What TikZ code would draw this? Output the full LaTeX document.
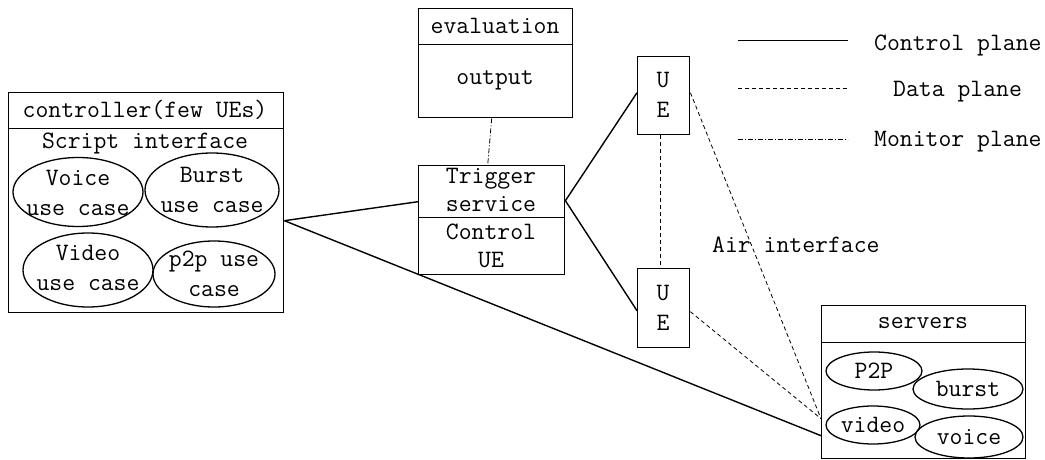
\documentclass[tikz,border=0pt]{standalone}
\usepackage{fontspec}
\usetikzlibrary{shapes.geometric}
\tikzset{
  box/.style={draw, line width=1.4pt, inner sep=0pt, anchor=north west},
  uc/.style={draw, ellipse, line width=1.3pt, inner sep=0pt},
  txt/.style={font=\fontsize{25}{30}\selectfont\ttfamily, inner sep=0pt, align=center},
  tight/.style={font=\fontsize{25}{28}\selectfont\ttfamily},
  ctl/.style={line width=1.4pt},
  dat/.style={line width=0.8pt, dash pattern=on 4pt off 3pt},
  mon/.style={line width=0.8pt, dash pattern=on 5pt off 2pt on 1pt off 2pt},
}
\begin{document}
\begin{tikzpicture}[x=1pt,y=-1pt]
\useasboundingbox (0,0) rectangle (1045,460);
% controller
\node[box, minimum width=275pt, minimum height=36pt] (ctrlh) at (8,92) {};
\node[box, minimum width=275pt, minimum height=184pt] (ctrlb) at (8,128) {};
\node[txt] (ctrlt) at (145,110) {controller(few UEs)};
\node[txt] (script) at (145,143) {Script interface};
\node[uc, minimum width=130pt, minimum height=69pt] (voice) at (78,192) {};
\node[txt] (voicet) at (78,193) {Voice\\use case};
\node[uc, minimum width=134pt, minimum height=74pt] (burst) at (212,190) {};
\node[txt] (burstt) at (212,190) {Burst\\use case};
\node[uc, minimum width=130pt, minimum height=74pt] (video) at (88,270) {};
\node[txt] (videot) at (88,268) {Video\\use case};
\node[uc, minimum width=122pt, minimum height=66pt] (p2p) at (214,274) {};
\node[txt] (p2pt) at (214,274) {p2p use\\case};
% evaluation
\node[box, minimum width=154pt, minimum height=36pt] (evalh) at (418,8) {};
\node[box, minimum width=154pt, minimum height=73pt] (evalb) at (418,44) {};
\node[txt] (evalt) at (495,26) {evaluation};
\node[txt] (outt) at (495,80) {output};
% trigger
\node[box, minimum width=146pt, minimum height=52pt] (trigh) at (418,165) {};
\node[box, minimum width=146pt, minimum height=57pt] (trigb) at (418,217) {};
\node[txt, tight] (trigt) at (491,190) {Trigger\\service};
\node[txt, tight] (cuet) at (491,246) {Control\\UE};
% UEs
\node[box, minimum width=52pt, minimum height=78pt] (ue1) at (637,56) {};
\node[txt] (ue1t) at (663,95) {U\\E};
\node[box, minimum width=52pt, minimum height=79pt] (ue2) at (637,268) {};
\node[txt] (ue2t) at (663,308) {U\\E};
% servers
\node[box, minimum width=204pt, minimum height=37pt] (srvh) at (821,305) {};
\node[box, minimum width=204pt, minimum height=116pt] (srvb) at (821,342) {};
\node[txt] (srvt) at (923,323) {servers};
\node[uc, minimum width=96pt, minimum height=38pt] (sp2p) at (874,371) {};
\node[txt] at (sp2p) {P2P};
\node[uc, minimum width=110pt, minimum height=40pt] (sburst) at (968,389) {};
\node[txt] at (sburst) {burst};
\node[uc, minimum width=94pt, minimum height=38pt] (svideo) at (873,425) {};
\node[txt] at (svideo) {video};
\node[uc, minimum width=108pt, minimum height=42pt] (svoice) at (969,437) {};
\node[txt] at (svoice) {voice};
% air interface
\node[txt, anchor=west] (air) at (712,245) {Air interface};
% connectors
\draw[ctl] (ctrlb.east) -- ([yshift=-10pt]trigh.west);
\draw[ctl] (ctrlb.east) -- ([yshift=-35pt]srvb.west);
\draw[ctl] ([yshift=-9pt]trigh.east) -- ([yshift=3pt]ue1.west);
\draw[ctl] ([yshift=-9pt]trigh.east) -- ([yshift=-2.5pt]ue2.west);
\draw[mon] ([xshift=-4pt]evalb.south) -- ([xshift=-4pt]trigh.north);
\draw[dat] ([xshift=-3pt]ue1.south) -- ([xshift=-3pt]ue2.north);
\draw[dat] ([yshift=3pt]ue1.east) -- ([yshift=-18pt]srvb.west);
\draw[dat] ([yshift=-3.5pt]ue2.east) -- ([yshift=-18pt]srvb.west);
% legend
\coordinate (l1a) at (738,41); \coordinate (l1b) at (848,41);
\coordinate (l2a) at (738,88); \coordinate (l2b) at (848,88);
\coordinate (l3a) at (738,139); \coordinate (l3b) at (848,139);
\draw[line width=1pt] (l1a) -- (l1b);
\draw[dat] (l2a) -- (l2b);
\draw[mon] (l3a) -- (l3b);
\node[txt, anchor=west] (lg1) at (874,45) {Control plane};
\node[txt, anchor=west] (lg2) at (893,92) {Data plane};
\node[txt, anchor=west] (lg3) at (874,142) {Monitor plane};
\end{tikzpicture}
\end{document}
